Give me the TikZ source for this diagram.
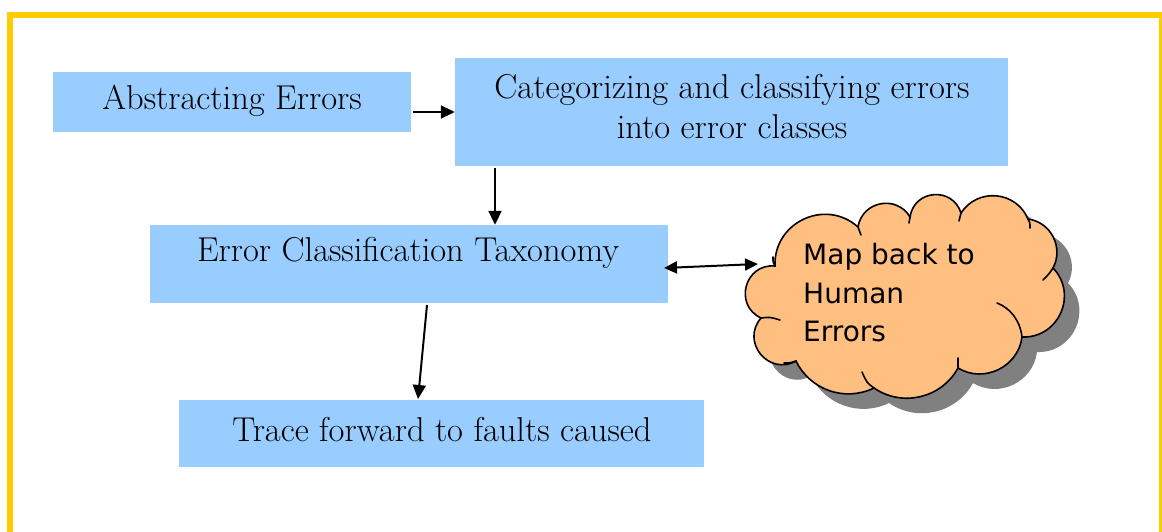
\documentclass[tikz,border=0pt]{standalone}
\usepackage{fontspec}
\newfontfamily\cloudfont{DejaVu Sans}
\usetikzlibrary{arrows.meta}
\definecolor{boxblue}{HTML}{99CCFF}
\definecolor{frameyellow}{HTML}{FFCC00}
\definecolor{cloudorange}{HTML}{FFBF80}
\definecolor{shadowgray}{HTML}{808080}
\tikzset{
  stepbox/.style={fill=boxblue, draw=none, inner sep=0pt},
  lbl/.style={font=\fontsize{34.5}{40}\selectfont, inner sep=0pt, align=center},
  arr/.style={line width=2pt, -{Triangle[length=14pt,width=13pt]}},
  darr/.style={line width=2pt, {Triangle[length=13pt,width=12pt]}-{Triangle[length=13pt,width=12pt]}},
  cloudline/.style={draw=black, line width=1.6pt, line cap=round},
}
\newcommand\mycloudpath{(775,266)
  to[bend left=67, looseness=1.22] (858,227)
  to[bend left=70, looseness=1.27] (910,217)
  to[bend left=77, looseness=1.40] (961,213)
  to[bend left=62, looseness=1.16] (1028,219)
  to[bend left=55, looseness=1.08] (1053,268)
  to[bend left=68, looseness=1.24] (1022,337)
  to[bend left=57, looseness=1.09] (958,368)
  to[bend left=48, looseness=1.02] (874,388)
  to[bend left=45, looseness=1.0] (796,361)
  to[bend left=80, looseness=1.45] (761,318)
  to[bend left=80, looseness=1.45] (775,266) -- cycle}
\begin{document}
\begin{tikzpicture}[x=1pt,y=-1pt]
\useasboundingbox (0,0) rectangle (1162,532);
\begin{scope}
\clip (0,0) rectangle (1162,532);
\draw[frameyellow, line width=6pt] (10,15) rectangle (1161.5,560);
\end{scope}
% boxes
\node[stepbox, minimum width=358pt, minimum height=60pt] (abs) at (232,102) {};
\node[lbl] (absT) at (232,101) {Abstracting Errors};
\node[stepbox, minimum width=553pt, minimum height=108pt] (cat) at (731.5,112) {};
\node[lbl] (catT) at (732,107) {Categorizing and classifying errors\\into error classes};
\node[stepbox, minimum width=518pt, minimum height=78pt] (tax) at (409,264) {};
\node[lbl] (taxT) at (408,253) {Error Classification Taxonomy};
\node[stepbox, minimum width=525pt, minimum height=67pt] (trace) at (441.5,433.5) {};
\node[lbl] (traceT) at (442,430) {Trace forward to faults caused};
% cloud
\fill[shadowgray, shift={(15,15)}] \mycloudpath;
\path[fill=cloudorange, cloudline] \mycloudpath;
\draw[cloudline] (775,266) .. controls (773,262) .. (773,257);
\draw[cloudline] (858,227) .. controls (860,231) .. (861,235);
\draw[cloudline] (910,217) .. controls (909,220) .. (909,223);
\draw[cloudline] (961,213) .. controls (960,217) .. (959,221);
\draw[cloudline] (1028,219) .. controls (1030,223) .. (1030,228);
\draw[cloudline] (1053,268) .. controls (1049,274) .. (1043,280);
\draw[cloudline] (1022,337) .. controls (1020,320) and (1010,308) .. (997,303);
\draw[cloudline] (958,368) .. controls (958,363) .. (958,358);
\draw[cloudline] (874,388) .. controls (867,383) .. (862,372);
\draw[cloudline] (796,361) .. controls (790,363) .. (784,363);
\draw[cloudline] (761,318) .. controls (770,317) .. (780,320);
\node[font=\cloudfont\fontsize{28}{38.5}\selectfont, align=left, anchor=west, inner sep=0pt] (cloudT) at (803,293) {Map back to\\Human\\Errors};
% connectors
\coordinate (p1) at (413,112);
\draw[arr] (p1) -- (p1 -| cat.west);
\coordinate (p2) at (495,168);
\draw[arr] (p2) -- (p2 |- tax.north);
\coordinate (p3) at (664,268);
\coordinate (p4) at (758,264);
\draw[darr] (p3) -- (p4);
\coordinate (p5) at (427,305);
\coordinate (p6) at (418,399);
\draw[arr] (p5) -- (p6);
\end{tikzpicture}
\end{document}
